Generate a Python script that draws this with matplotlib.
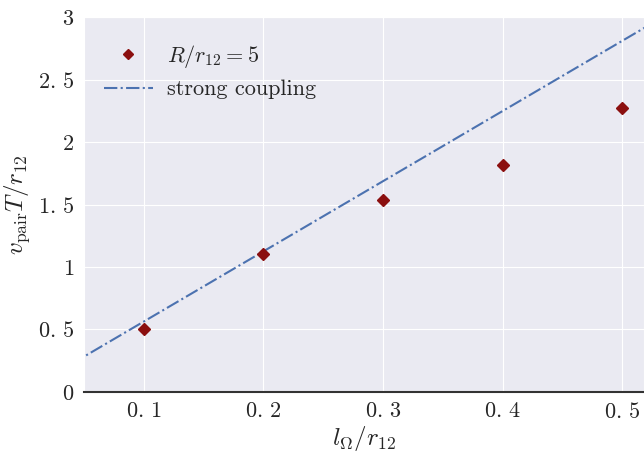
import numpy as np
import matplotlib
matplotlib.use("Agg")
import matplotlib.pyplot as plt
import seaborn as sns

sns.set_style("darkgrid")
plt.rcParams['font.family'] = 'serif'
plt.rcParams['font.serif'] = ['cmr10', 'DejaVu Serif']
plt.rcParams['mathtext.fontset'] = 'cm'
plt.rcParams['axes.unicode_minus'] = False

# data
l_omega = [0.1, 0.2, 0.3, 0.4, 0.5]
v_pair = [0.505, 1.10, 1.54, 1.82, 2.27]

strong_x = [0.04, 0.53]
strong_y = [0.225, 2.98]

xticks = [0.1, 0.2, 0.3, 0.4, 0.5]
xticklabels = [r'$0.\,1$', r'$0.\,2$', r'$0.\,3$', r'$0.\,4$', r'$0.\,5$']
yticks = [0, 0.5, 1, 1.5, 2, 2.5, 3]
yticklabels = [r'$0$', r'$0.\,5$', r'$1$', r'$1.\,5$', r'$2$', r'$2.\,5$', r'$3$']

fig = plt.figure(figsize=(6.44, 4.51), dpi=100)
ax = fig.add_axes([0.130, 0.131, 0.870, 0.831])

ax.plot(l_omega, v_pair, 'D', color='#8b0f0f', ms=6.5, label=r'$R/r_{12} = 5$', zorder=3)
ax.plot(strong_x, strong_y, '-.', color='#4c72b0', lw=1.5, label='strong coupling')

ax.set_xlim(0.05, 0.518)
ax.set_ylim(0, 3)
ax.set_xticks(xticks)
ax.set_xticklabels(xticklabels, fontsize=16)
ax.set_yticks(yticks)
ax.set_yticklabels(yticklabels, fontsize=16)

ax.spines['bottom'].set_visible(True)
ax.spines['bottom'].set_color('#333333')
ax.spines['bottom'].set_linewidth(1.5)

ax.set_xlabel(r'$l_{\Omega}/r_{12}$', fontsize=18, labelpad=2)
ax.set_ylabel(r'$v_{\mathrm{pair}}T/r_{12}$', fontsize=18)

leg = ax.legend(loc='upper left', fontsize=16, frameon=False, numpoints=1,
                bbox_to_anchor=(0.0, 0.985), handlelength=2.2, markerscale=0.8,
                handletextpad=0.65, labelspacing=0.45)

fig.savefig('out.png', dpi=100)
